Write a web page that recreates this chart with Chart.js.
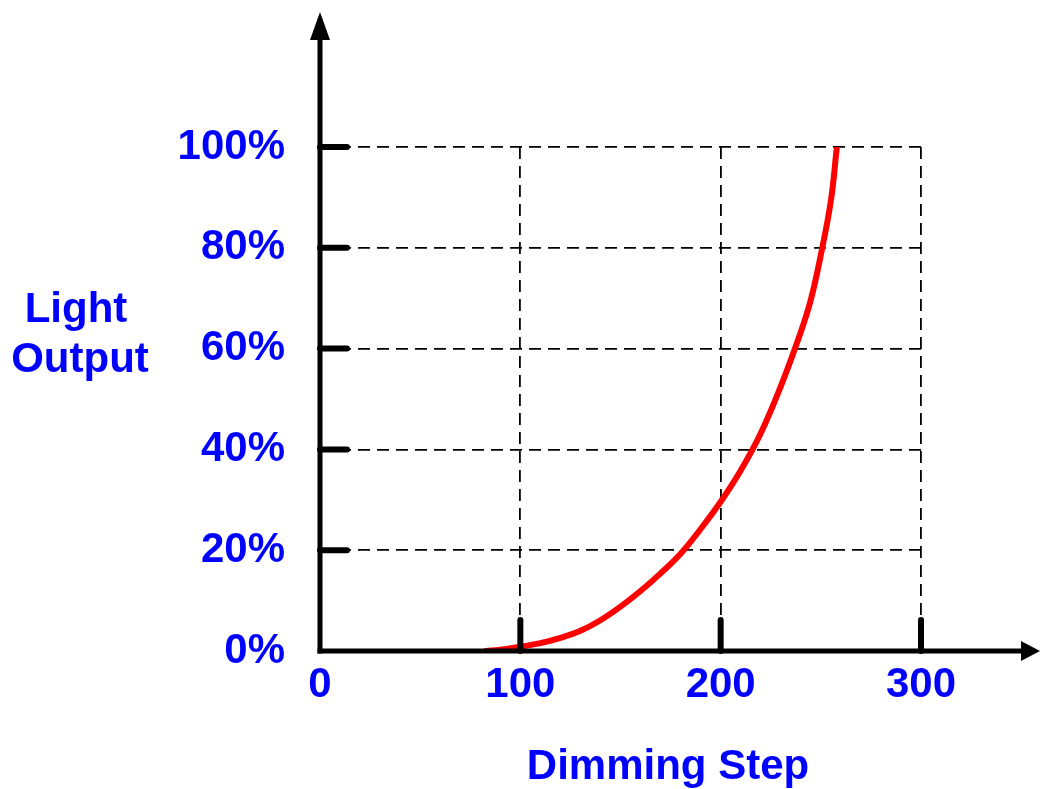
<!DOCTYPE html>
<html>
<head>
<meta charset="utf-8">
<title>Light Output vs Dimming Step</title>
<script src="https://cdn.jsdelivr.net/npm/chart.js@4/dist/chart.umd.min.js"></script>
<style>
    body { margin: 0; background: #fff; }
    canvas { display: block; }
</style>
</head>
<body>
<canvas id="chart" width="1040" height="789"></canvas>
<script>
// Curve: dimming step -> light output (%)
const steps  = [83, 90, 100, 110, 120, 130, 140, 150, 160, 170, 180, 190, 200, 210, 220, 230, 240, 245, 250, 255, 258];
const output = [0, 0.25, 0.85, 1.55, 2.6, 4.0, 6.1, 8.8, 11.9, 15.4, 19.3, 24.2, 29.6, 35.8, 43.2, 52.5, 63.3, 69.7, 78.6, 89.3, 100];

const xTicks = [0, 100, 200, 300];
const yTicks = [0, 20, 40, 60, 80, 100];
const xTitle = 'Dimming Step';
const yTitle = ['Light', 'Output'];

const BLUE = '#0000ff';
const FONT = { family: '"Liberation Sans", Arial, sans-serif', size: 42, weight: 'bold' };

// Axis lines with arrows, thick tick stubs, axis titles
const axesPlugin = {
    id: 'axes',
    afterDatasetsDraw(chart) {
        const { ctx, scales: { x, y } } = chart;
        const x0 = x.getPixelForValue(0);
        const y0 = y.getPixelForValue(0);

        const line = (ax, ay, bx, by) => {
            ctx.beginPath();
            ctx.moveTo(ax, ay);
            ctx.lineTo(bx, by);
            ctx.stroke();
        };

        ctx.save();
        ctx.strokeStyle = '#000';
        ctx.fillStyle = '#000';

        // tick stubs
        ctx.lineWidth = 6;
        ctx.lineCap = 'round';
        yTicks.filter(v => v > 0).forEach(v => {
            const py = y.getPixelForValue(v);
            line(x0, py, x0 + 27, py);
        });
        xTicks.filter(v => v > 0).forEach(v => {
            const px = x.getPixelForValue(v);
            line(px, y0, px, y0 - 31);
        });

        // axes
        ctx.lineWidth = 5;
        ctx.lineCap = 'butt';
        line(x0, y0 + 2.5, x0, 36);
        line(x0 - 2.5, y0, 1024, y0);

        // arrow heads
        ctx.beginPath();
        ctx.moveTo(x0, 12);
        ctx.lineTo(x0 - 10, 40);
        ctx.lineTo(x0 + 10, 40);
        ctx.closePath();
        ctx.fill();

        ctx.beginPath();
        ctx.moveTo(1040, y0);
        ctx.lineTo(1021, y0 - 10);
        ctx.lineTo(1021, y0 + 10);
        ctx.closePath();
        ctx.fill();

        // axis titles
        ctx.fillStyle = BLUE;
        ctx.font = `${FONT.weight} ${FONT.size}px ${FONT.family}`;
        ctx.textAlign = 'center';
        ctx.textBaseline = 'alphabetic';
        ctx.fillText(yTitle[0], 76, 322);
        ctx.fillText(yTitle[1], 80, 372);
        ctx.fillText(xTitle, 668, 779);

        ctx.restore();
    }
};

const ctx = document.getElementById('chart').getContext('2d');
new Chart(ctx, {
    type: 'scatter',
    data: {
        datasets: [{
            data: steps.map((s, i) => ({ x: s, y: output[i] })),
            showLine: true,
            borderColor: '#ff0000',
            borderWidth: 6,
            borderCapStyle: 'round',
            borderJoinStyle: 'round',
            pointRadius: 0,
            tension: 0.4
        }]
    },
    options: {
        responsive: false,
        animation: false,
        devicePixelRatio: 1,
        layout: { padding: { left: 0, right: 119, top: 147, bottom: 0 } },
        plugins: {
            legend: { display: false },
            tooltip: { enabled: false }
        },
        scales: {
            x: {
                type: 'linear',
                min: 0,
                max: 300,
                afterBuildTicks: scale => { scale.ticks = xTicks.map(v => ({ value: v })); },
                afterFit: scale => { scale.height = 138; },
                ticks: { color: BLUE, font: FONT, padding: 9 },
                grid: { color: '#000', lineWidth: 1.8, drawTicks: false },
                border: { display: false, dash: [12, 7] }
            },
            y: {
                type: 'linear',
                min: 0,
                max: 100,
                afterBuildTicks: scale => { scale.ticks = yTicks.map(v => ({ value: v })); },
                afterFit: scale => { scale.width = 320; },
                ticks: { color: BLUE, font: FONT, padding: 35, callback: v => v + '%' },
                grid: { color: '#000', lineWidth: 1.8, drawTicks: false },
                border: { display: false, dash: [12, 7] }
            }
        }
    },
    plugins: [axesPlugin]
});
</script>
</body>
</html>
